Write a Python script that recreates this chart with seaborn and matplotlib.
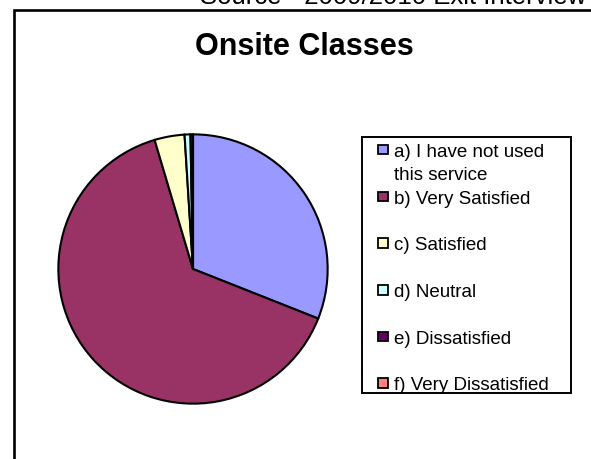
import matplotlib
matplotlib.use("Agg")
import matplotlib.pyplot as plt
from matplotlib.patches import Rectangle
import seaborn as sns

# ---- data ----
categories = ["a) I have not used\nthis service", "b) Very Satisfied", "c) Satisfied",
              "d) Neutral", "e) Dissatisfied", "f) Very Dissatisfied"]
values = [31.0, 64.4, 3.6, 0.7, 0.3, 0.0]
colors = ["#9999FF", "#993366", "#FFFFCC", "#CCFFFF", "#660066", "#FF8080"]
title = "Onsite Classes"
source = "Source - 2009/2010 Exit Interview"

sns.set_theme(style="white")
plt.rcParams["font.family"] = ["Liberation Sans", "DejaVu Sans"]

W, H = 591, 460
fig = plt.figure(figsize=(W / 100, H / 100), dpi=100)
fig.patch.set_facecolor("white")

def fx(px):
    return px / W

def fy(py):
    return 1 - py / H

# pie axes: center (193, 270), radius 136 px
cx, cy, r = 193, 270, 136
ax = fig.add_axes([fx(cx - r), fy(cy + r), 2 * r / W, 2 * r / H])
ax.pie(values, colors=colors, startangle=90, counterclock=False, radius=1.0,
       wedgeprops=dict(edgecolor="black", linewidth=1.5))
ax.set_xlim(-1.01, 1.01)
ax.set_ylim(-1.01, 1.01)
ax.set_aspect("equal")
ax.axis("off")

# outer chart frame (runs off right and bottom edges)
fig.add_artist(Rectangle((fx(13.5), -0.1), 1.2, fy(11) + 0.1, transform=fig.transFigure,
                         facecolor="none", edgecolor="black", linewidth=1.9, zorder=5))

# source text, partly cut at top (as in the original)
fig.text(fx(200), fy(4.5), source, fontsize=18.5, color="black", ha="left", va="baseline")

# title
fig.text(fx(304), fy(55), title, fontsize=22, fontweight="bold", color="black",
         ha="center", va="baseline")

# legend
fig.add_artist(Rectangle((fx(362), fy(394)), fx(571) - fx(362), fy(138) - fy(394),
                         transform=fig.transFigure, facecolor="white", edgecolor="black",
                         linewidth=1.4, zorder=4))
centers = [150.5, 197.5, 244, 291, 337.5, 384]
ms = 9.5
line_gap = 23.3
for lab, col, yc in zip(categories, colors, centers):
    fig.add_artist(Rectangle((fx(383 - ms / 2), fy(yc + ms / 2)), ms / W, ms / H,
                             transform=fig.transFigure, facecolor=col, edgecolor="black",
                             linewidth=1.3, zorder=6))
    for k, line in enumerate(lab.split("\n")):
        fig.text(fx(394), fy(yc + 6.5 + k * line_gap), line, fontsize=13.5, color="black",
                 ha="left", va="baseline", zorder=6)

fig.savefig("out.png", dpi=100)
